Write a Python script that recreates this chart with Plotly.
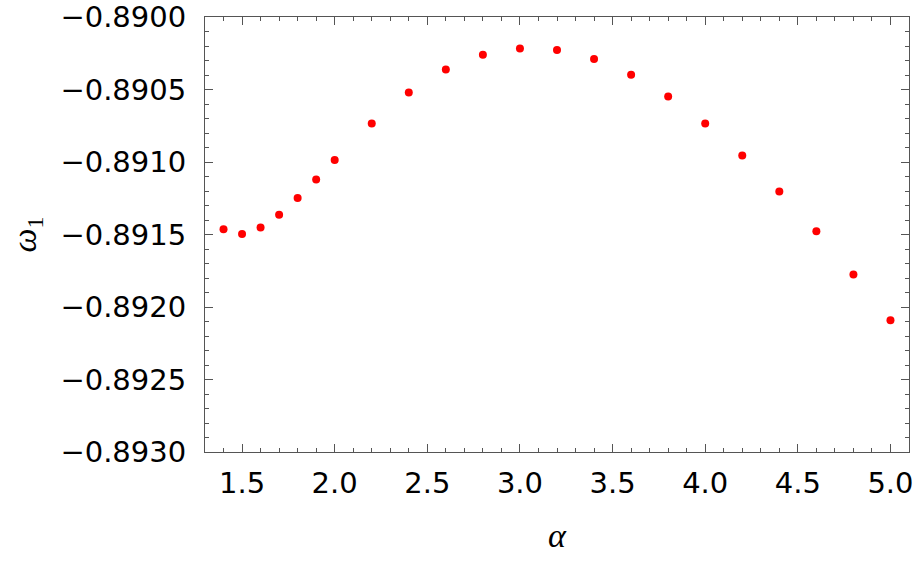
import plotly.graph_objects as go

alpha = [1.4, 1.5, 1.6, 1.7, 1.8, 1.9, 2.0, 2.2, 2.4, 2.6, 2.8, 3.0,
         3.2, 3.4, 3.6, 3.8, 4.0, 4.2, 4.4, 4.6, 4.8, 5.0]
omega1 = [-0.891463, -0.891496, -0.891452, -0.891364, -0.891249, -0.891121,
          -0.890987, -0.890734, -0.890520, -0.890362, -0.890260, -0.890217,
          -0.890228, -0.890290, -0.890398, -0.890548, -0.890734, -0.890955,
          -0.891204, -0.891477, -0.891776, -0.892091]

ytick_vals = [-0.8930, -0.8925, -0.8920, -0.8915, -0.8910, -0.8905, -0.8900]
ytick_text = ["\u22120.8930", "\u22120.8925", "\u22120.8920", "\u22120.8915",
              "\u22120.8910", "\u22120.8905", "\u22120.8900"]

frame = "#555555"
tick_font = dict(family="DejaVu Sans", size=29, color="black")

fig = go.Figure(go.Scatter(
    x=alpha, y=omega1, mode="markers",
    marker=dict(color="red", size=8, line=dict(width=0)),
))

fig.update_xaxes(
    range=[1.3, 5.1], dtick=0.5, tick0=0, tickformat=".1f",
    showgrid=False, zeroline=False, automargin=False,
    showline=True, linecolor=frame, linewidth=1, mirror="ticks",
    ticks="inside", ticklen=8, tickcolor=frame, tickwidth=1,
    minor=dict(dtick=0.1, tick0=0, ticks="inside", ticklen=4, tickcolor=frame, showgrid=False),
    tickfont=tick_font, ticklabelstandoff=5, ticklabeloverflow="allow",
    title=dict(text="<i>α</i>", font=dict(family="Liberation Serif", size=34, color="black"), standoff=24),
)
fig.update_yaxes(
    range=[-0.8930, -0.8900], tickvals=ytick_vals, ticktext=ytick_text,
    showgrid=False, zeroline=False, automargin=False,
    showline=True, linecolor=frame, linewidth=1, mirror="ticks",
    ticks="inside", ticklen=8, tickcolor=frame, tickwidth=1,
    minor=dict(dtick=0.0001, tick0=0, ticks="inside", ticklen=4, tickcolor=frame, showgrid=False),
    tickfont=tick_font, ticklabelstandoff=12, ticklabeloverflow="allow",
    title=dict(text="<i>ω</i><sub>1</sub>", font=dict(family="Liberation Serif", size=34, color="black"), standoff=13),
)

fig.update_layout(
    width=915, height=567,
    margin=dict(l=205, r=6, t=17, b=115),
    plot_bgcolor="white", paper_bgcolor="white",
    showlegend=False,
)

# drop the default page margin so the figure sits at the window's corner
fig.write_html("out.html", config={"displayModeBar": False},
               post_script="document.body.style.margin='0';")
